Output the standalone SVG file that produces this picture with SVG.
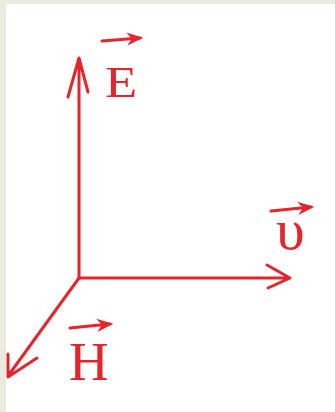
<svg xmlns="http://www.w3.org/2000/svg" width="335" height="412" viewBox="0 0 335 412">
<style>
.ax{stroke:#e3262d;stroke-width:3;fill:none;stroke-linecap:round;stroke-linejoin:round}
.ov{stroke:#e3262d;stroke-width:3;fill:none;stroke-linecap:round}
.lbl{font-family:"Liberation Serif","Times New Roman",serif;fill:#e3262d}
</style>
<defs>
<marker id="ah" viewBox="0 0 10 10" refX="8" refY="5" markerWidth="5.5" markerHeight="5.5" orient="auto" markerUnits="strokeWidth">
<path d="M0,1 L10,5 L0,9 L3,5 Z" fill="#e3262d"/>
</marker>
</defs>
<rect x="0" y="0" width="335" height="412" fill="#ffffff"/>
<rect x="0" y="0" width="335" height="4" fill="#ece9df"/>
<rect x="0" y="0" width="6" height="412" fill="#ece9df"/>
<g id="connectors">
<path class="ax" d="M79,278 L79,58 M68,97 L79,58 L88,92"/>
<path class="ax" d="M79,278 L290,278 M267,265 L290,278 L268,288"/>
<path class="ax" d="M79,278 L8,376 M8,354 L8,377 L37,358"/>
</g>
<g id="E">
<line class="ov" x1="102" y1="41" x2="140" y2="38" marker-end="url(#ah)"/>
<text class="lbl" x="105" y="97" font-size="44" transform="translate(105 97) scale(1.2 1) translate(-105 -97)">E</text>
</g>
<g id="v">
<line class="ov" x1="271" y1="211" x2="311" y2="207" marker-end="url(#ah)"/>
<text class="lbl" x="276" y="249" font-size="58">υ</text>
</g>
<g id="H">
<line class="ov" x1="70" y1="328" x2="110" y2="324" marker-end="url(#ah)"/>
<text class="lbl" x="69" y="380" font-size="55">H</text>
</g>
</svg>
